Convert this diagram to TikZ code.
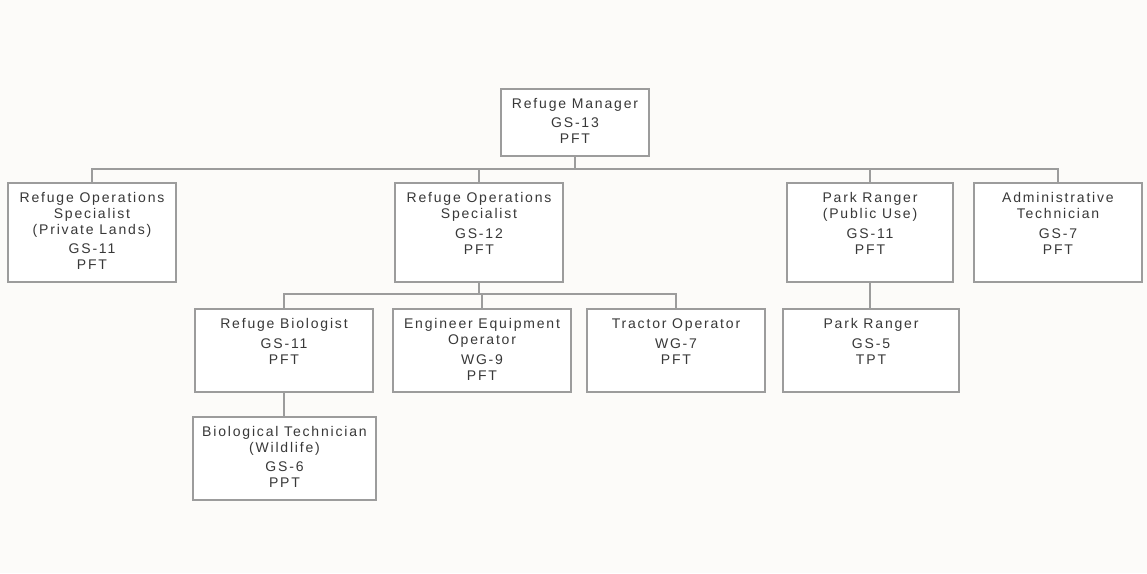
\documentclass[tikz,border=0pt]{standalone}
\usepackage{fontspec}
\newfontfamily\orgfont[LetterSpace=13]{Liberation Sans}
\definecolor{bg}{HTML}{FCFBF9}
\definecolor{edge}{HTML}{9C9C9C}
\definecolor{ink}{HTML}{383838}
\begin{document}
\begin{tikzpicture}[x=1pt,y=-1pt,
  box/.style={draw=edge, fill=white, line width=1.3pt, rectangle, inner sep=0pt},
  txt/.style={anchor=north, inner sep=0pt, align=center, text=ink,
    font=\orgfont\fontsize{14}{16}\selectfont},
  link/.style={draw=edge, line width=1.3pt}]
\fill[bg] (0,0) rectangle (1147,573);
\useasboundingbox (0,0) rectangle (1147,573);
\newcommand\mkbox[6]{%
  \node[box, minimum width={#4-#2}, minimum height={#5-#3}] (#1) at ({(#2+#4)/2},{(#3+#5)/2}) {};
  \node[txt] (#1t) at ([yshift=-9.5pt]#1.north) {\rule{0pt}{10.5pt}#6};}
\mkbox{mgr}{501}{89}{649}{156}{Refuge Manager\\[3pt]GS-13\\PFT}
\mkbox{rosa}{8}{183}{176}{282}{Refuge Operations\\Specialist\\(Private Lands)\\[3pt]GS-11\\PFT}
\mkbox{rosb}{395}{183}{563}{282}{Refuge Operations\\Specialist\\[4pt]GS-12\\PFT}
\mkbox{prp}{787}{183}{953}{282}{Park Ranger\\(Public Use)\\[4pt]GS-11\\PFT}
\mkbox{adm}{974}{183}{1142}{282}{Administrative\\Technician\\[4pt]GS-7\\PFT}
\mkbox{bio}{195}{309}{373}{392}{Refuge Biologist\\[4pt]GS-11\\PFT}
\mkbox{eng}{393}{309}{571}{392}{Engineer Equipment\\Operator\\[4pt]WG-9\\PFT}
\mkbox{trac}{587}{309}{765}{392}{Tractor Operator\\[4pt]WG-7\\PFT}
\mkbox{pr}{783}{309}{959}{392}{Park Ranger\\[4pt]GS-5\\TPT}
\mkbox{biot}{193}{417}{376}{500}{Biological Technician\\(Wildlife)\\[3pt]GS-6\\PPT}
% first bus
\coordinate (busa) at (mgr.south |- 0,169);
\draw[link] (mgr.south) -- (busa);
\draw[link] (rosa.north) |- (busa) -| (adm.north);
\draw[link] (rosb.north) -- (rosb.north |- busa);
\draw[link] (prp.north) -- (prp.north |- busa);
% second bus
\coordinate (busb) at (rosb.south |- 0,294);
\draw[link] (rosb.south) -- (busb);
\draw[link] (bio.north) |- (busb) -| (trac.north);
\draw[link] (eng.north) -- (eng.north |- busb);
% single links
\draw[link] (bio.south) -- (biot.north -| bio.south);
\draw[link] (prp.south) -- (pr.north -| prp.south);
\end{tikzpicture}
\end{document}
